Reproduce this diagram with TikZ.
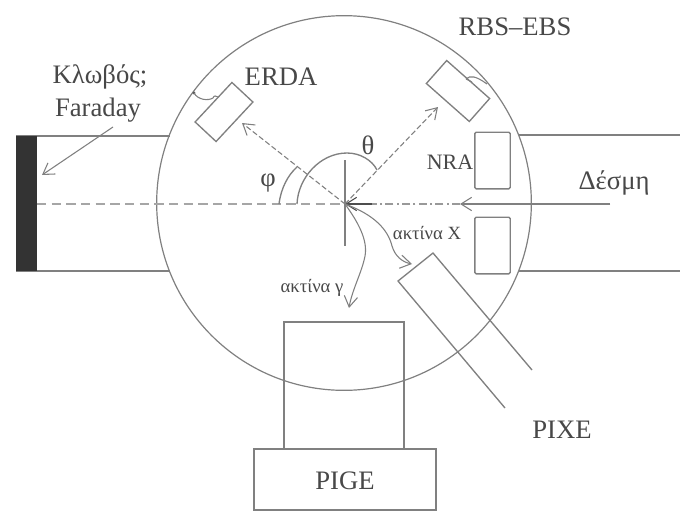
\documentclass[tikz,border=0pt]{standalone}
\usepackage{fontspec}
\setmainfont{Liberation Serif}
\usetikzlibrary{arrows.meta}
\definecolor{ln}{HTML}{808080}
\definecolor{tx}{HTML}{484848}
\tikzset{
  wire/.style={draw=ln,line width=1pt},
  thin wire/.style={draw=ln,line width=0.8pt},
  barb/.style={-{Straight Barb[length=8pt,width=10pt,line width=0.8pt]}},
  lbl/.style={text=tx,font=\fontsize{20}{22}\selectfont,inner sep=0pt},
  mid/.style={text=tx,font=\fontsize{16.5}{18}\selectfont,inner sep=0pt},
  small/.style={text=tx,font=\fontsize{14}{16}\selectfont,inner sep=0pt},
  boxn/.style={wire,inner sep=0pt,outer sep=0pt},
  dash1/.style={dash pattern=on 7pt off 4pt},
  dash2/.style={dash pattern=on 6pt off 2.5pt on 1.5pt off 2.5pt}
}
\begin{document}
\begin{tikzpicture}[x=0.75pt,y=-0.75pt]
\useasboundingbox (0,0) rectangle (680,514);
\fill[white] (0,0) rectangle (680,514);
% key points
\coordinate (c) at (345,204);
\coordinate (tl1) at (16,136); \coordinate (tl2) at (170,136);
\coordinate (bl1) at (16,271); \coordinate (bl2) at (170,271);
\coordinate (tr1) at (519,135); \coordinate (tr2) at (680,135);
\coordinate (br1) at (519,271); \coordinate (br2) at (680,271);
\coordinate (beamend) at (610,204);
\coordinate (fcleft) at (37,204);
% chamber
\node[boxn,circle,minimum size=281pt,line width=0.9pt] (chamber) at (344,203) {};
% tubes
\draw[wire] (tl1) -- (tl2);
\draw[wire] (bl1) -- (bl2);
\draw[wire] (tr1) -- (tr2);
\draw[wire] (br1) -- (br2);
\node[fill=black!80,draw=none,inner sep=0pt,minimum width=15.75pt,minimum height=101.25pt,anchor=north west] (fc) at (16,136) {};
% NRA slits
\node[boxn,rounded corners=1pt,minimum width=26.5pt,minimum height=42.5pt] (slitA) at (492.5,160.5) {};
\node[boxn,rounded corners=1pt,minimum width=26.5pt,minimum height=42.5pt] (slitB) at (492.5,245.5) {};
% detectors
\node[boxn,rotate=47,minimum width=40.5pt,minimum height=21.5pt] (erdabox) at (224,112) {};
\node[boxn,rotate=-41.5,minimum width=43pt,minimum height=23pt] (rbsbox) at (458,91) {};
% PIXE
\coordinate (p1) at (532,370); \coordinate (p2) at (433,253);
\coordinate (p3) at (398,281); \coordinate (p4) at (505,408);
\draw[wire] (p1) -- (p2) -- (p3) -- (p4);
% PIGE
\node[boxn,minimum width=90pt,minimum height=95.25pt,anchor=north west] (pigeup) at (284,322) {};
\node[boxn,minimum width=136.5pt,minimum height=45.75pt,anchor=north west] (pigebase) at (254,449) {};
% beam axis
\draw[draw=ln!70,line width=1.1pt,dash1] (fcleft) -- (c);
\coordinate (arrowtip) at (460,204);
\draw[draw=ln!80,line width=1.1pt,dash2] (beamend) -- (c);
\draw[wire,barb] (beamend) -- (arrowtip);
\draw[draw=ln!60!black,line width=0.9pt,barb] (372,204) -- (c);
% cross
\coordinate (v1) at (345,160); \coordinate (v2) at (345,246);
\draw[wire] (v1) -- (v2);
% scattered directions
\coordinate (erdatip) at (242,123);
\coordinate (rbstip) at (438,107);
\draw[thin wire,dash pattern=on 4pt off 2pt,barb] (c) -- (erdatip);
\draw[thin wire,dash pattern=on 4pt off 2pt,barb] (c) -- (rbstip);
% arcs
\coordinate (thA) at (297,204); \coordinate (thB) at (377,170);
\coordinate (phA) at (279,204); \coordinate (phB) at (297,167);
\draw[wire] (thA) .. controls (298,178) and (320,153) .. (347,153) .. controls (360,153) and (372,160) .. (thB);
\draw[wire] (phA) .. controls (281,188) and (288,175) .. (phB);
% X and gamma rays
\coordinate (xtip) at (412,264);
\coordinate (gtip) at (349,308);
\draw[thin wire,barb] (c) .. controls (375,215) and (388,230) .. (392,246) .. controls (395,256) and (402,262) .. (xtip);
\draw[thin wire,barb] (c) .. controls (358,222) and (368,240) .. (365,256) .. controls (362,272) and (352,290) .. (gtip);
% Faraday arrow
\coordinate (fa) at (113,127); \coordinate (fb) at (42,175);
\draw[thin wire,barb] (fa) -- (fb);
% cables
\coordinate (e1) at (194,93); \coordinate (e2) at (218,97);
\coordinate (r1) at (466,79); \coordinate (r2) at (487,84);
\fill[ln!70!black] (e1) circle (1.2pt);
\draw[thin wire] (e1) .. controls (198,100) and (208,101) .. (213,98) .. controls (214,95) and (216,96) .. (e2);
\draw[thin wire] (r1) .. controls (470,75) and (476,76) .. (r2);
\draw[thin wire] (r1) -- (472,82);
% labels
\node[lbl] (tkl) at (100,77) {Κλωβός;};
\node[lbl] (tfa) at (98,110) {Faraday};
\node[lbl] (ter) at (281,77) {ERDA};
\node[lbl] (trb) at (515,27) {RBS–EBS};
\node[mid] (tnr) at (450,162) {NRA};
\node[lbl] (tth) at (368,145) {θ};
\node[lbl] (tph) at (268,183) {φ};
\node[lbl] (tbe) at (614,183) {Δέσμη};
\node[small] (txr) at (427,233) {ακτίνα Χ};
\node[small] (tgr) at (312,288) {ακτίνα γ};
\node[lbl] (tpx) at (562,430) {PIXE};
\node[lbl] (tpg) at (345,481) {PIGE};
\end{tikzpicture}
\end{document}
